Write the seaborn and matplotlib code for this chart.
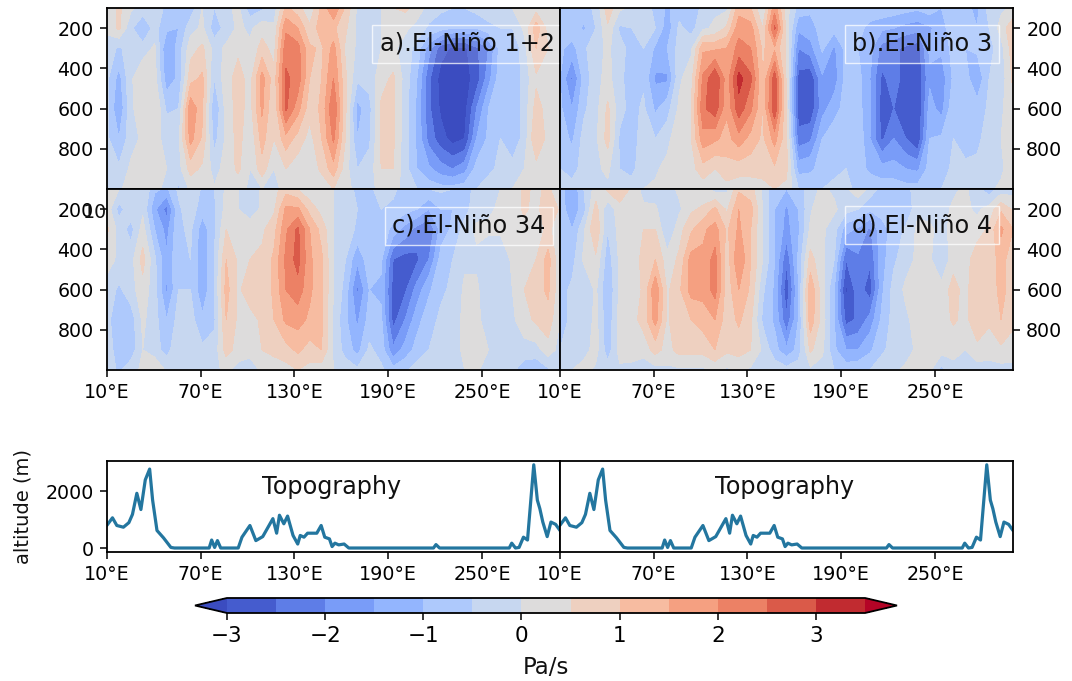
import numpy as np
import pandas as pd
import matplotlib
matplotlib.use("Agg")
import matplotlib.pyplot as plt
import seaborn as sns

lons = np.linspace(10, 300, 39)
plevs = [100, 200, 300, 450, 600, 750, 900, 1000]
levels = np.arange(-3, 3.51, 0.5)
lon_ticks = [10, 70, 130, 190, 250]
lon_labels = ["10°E", "70°E", "130°E", "190°E", "250°E"]
p_ticks = [200, 400, 600, 800]

nino12 = [
 [0.1,0.1,-0.2,-0.4,-0.4,-0.4,-0.3,0],[0.6,0.6,-0.6,-1.2,-1.5,-1.0,-0.4,-0.2],[0.1,-0.4,-0.2,-0.1,-0.1,-0.2,0.1,0.5],
 [-0.2,-1.0,-0.3,0.5,0.3,0.1,0.1,0.2],[0,-0.3,0.1,0.2,0.5,0.1,0.2,0.1],[-0.7,-0.9,-1.5,-1.3,-0.6,-0.1,0,-0.1],
 [-1,-1,-0.8,-0.9,-0.5,-0.1,-0.2,-0.6],[-0.8,-0.2,0.3,0.8,1.9,1.7,0.7,0.1],[0,0.1,0.6,1.1,1.1,0.9,0.4,0.1],
 [-0.5,-0.8,-0.2,-0.5,-1.0,-0.7,-0.2,0.05],[-0.1,-0.3,0.1,0.3,0.2,0.1,0.2,0.1],[0.1,0.1,0.4,0.7,0.7,0.7,0.6,0.2],
 [-0.8,-0.1,0.1,0.3,0.3,0.1,0,-0.1],[-0.6,0.3,0.7,1.7,1.6,1.2,0.8,0],[-0.3,0.1,0.3,0.7,0.5,0.5,0,-0.1],
 [1.1,1.9,2.3,2.6,2.6,1.3,0.5,0.1],[0.7,1.5,2.2,2.3,1.7,0.8,0.2,0.1],[0.1,0.6,1.1,1.0,0.7,0.3,0.2,0.1],
 [1.1,1.3,0.9,1.0,1.1,1.0,0.6,0.2],[2.0,1.1,1.7,2.0,2.5,2.1,1.3,0.5],[0.9,0.6,0.4,0.6,0.6,0.5,0.2,0.1],
 [-0.1,-0.1,-0.1,-0.4,-1.2,-1,-0.5,-0.1],[-0.1,-0.2,-0.2,-0.3,-0.7,-0.6,-0.3,-0.1],[0,0,0,0.3,0.6,0.6,0.5,0.1],
 [0.5,0.2,0.1,0.6,0.6,0.6,0.5,0.1],[0.6,0.1,-0.2,-0.2,-0.3,-0.3,-0.3,-0.1],[0.3,-0.2,-0.7,-1,-1.1,-1.1,-1,-0.5],
 [-0.2,-0.6,-1.8,-2.4,-2.4,-2.2,-1.4,-0.7],[-0.4,-0.8,-2.8,-3.2,-3.1,-2.8,-1.8,-0.8],[-0.5,-1,-3.1,-3.3,-3.3,-3.2,-2.0,-0.8],
 [-0.5,-1,-3.1,-3.2,-3.2,-3,-1.7,-0.7],[-0.3,-1,-2.6,-2.8,-2,-1.5,-0.8,-0.5],[-0.1,-0.7,-2,-1.7,-1,-0.9,-0.6,-0.3],
 [-0.1,-0.5,-0.8,-0.7,-0.6,-0.5,-0.4,-0.1],[0,-0.5,-1.0,-0.9,-1,-0.9,-0.3,0],[0.5,0.1,-0.2,-0.3,-0.3,-0.3,0,0.1],
 [0.3,1.3,1.0,0.4,0.7,1.0,0.3,0.1],[0.1,0.3,0.5,0.4,0.3,0.3,0.1,0.1],[0.1,0.1,0.2,0.2,0.1,0.1,0.1,0.1],
]
nino3 = [
 [-0.8,-0.8,-0.9,-1,-0.9,-0.7,-0.5,-0.3],[-0.5,-0.7,-1.2,-2.1,-1.5,-1.1,-0.7,-0.3],[-0.7,-1.1,-0.6,-0.8,-0.6,-0.3,-0.3,-0.1],
 [-0.4,-0.5,-0.2,-0.2,-0.2,-0.1,-0.1,0],[0.8,0.4,0.1,0.2,0.6,0.7,0.1,-0.1],[0.1,-0.6,-0.3,-0.4,-0.3,-0.6,-0.5,-0.3],
 [-0.1,-0.5,-0.7,-0.7,-0.7,-0.7,-0.7,-0.2],[-0.3,-0.4,-0.5,-0.6,-0.4,-0.3,-0.1,0],[-0.6,-0.5,-1.1,-1.6,-1.1,-0.5,-0.1,0.1],
 [-1.1,-1.3,-1,-1.6,-0.7,-0.2,0.2,0.1],[-0.7,-0.4,-0.3,-0.1,0.1,0.5,0.5,0.1],[-1,-0.7,-0.1,0.3,0.5,0.5,0.3,0.1],
 [-0.3,-0.1,1.4,2.1,2.4,1.8,0.8,0.2],[-0.1,0.1,1.4,3.0,2.8,1.6,0.5,0.2],[-0.1,0.6,1.5,1.7,1.6,1.3,0.8,0.3],
 [1.3,1.8,2.2,3.2,2.8,1.8,0.7,0.2],[1.0,1.7,2,2.6,2.1,1.3,0.7,0.2],[0,0.5,0.9,1,1,0.9,0.7,0.3],
 [1.8,2.6,1.4,2.8,2.9,1.7,0.9,0.5],[0.2,0.3,0.4,0.4,0.4,0.6,0.6,0.4],[-0.7,-1.4,-2,-2.7,-2.8,-2.3,-1.2,-0.5],
 [-0.9,-1.2,-1.7,-2.9,-2.9,-2.1,-1.1,-0.6],[-0.7,-0.8,-0.9,-1.6,-1.7,-1,-0.8,-0.5],[-0.8,-0.8,-1.6,-1.8,-1.2,-0.7,-0.6,-0.4],
 [-0.5,-0.6,-0.8,-0.8,-0.8,-0.5,-0.5,-0.4],[-0.8,-0.9,-1,-0.8,-0.8,-0.6,-0.8,-0.6],[-0.8,-1.1,-1.3,-1.5,-1.4,-1.5,-1.1,-0.7],
 [-0.6,-1.4,-2.2,-2.6,-2.8,-2.6,-1.3,-0.7],[-0.7,-1.5,-2.4,-2.3,-2.5,-2,-1.3,-0.7],[-0.8,-1.7,-2.6,-2.7,-2.7,-2.5,-1.5,-0.8],
 [-0.9,-1.8,-2.8,-3,-3,-3,-1.6,-0.8],[-0.7,-1.6,-1.4,-1.6,-1.3,-1,-0.8,-0.6],[-1,-1.2,-1.4,-1.8,-1.7,-0.9,-0.7,-0.5],
 [-0.9,-0.7,-0.8,-0.9,-0.6,-0.5,-0.4,-0.2],[-0.9,-0.9,-1,-0.8,-0.8,-0.7,-0.4,-0.3],[-1.1,-1,-0.9,-1.4,-0.8,-0.6,-0.4,-0.2],
 [-0.3,-0.5,-0.7,-0.5,-0.4,-0.3,-0.3,-0.1],[-0.1,0.2,-0.2,-0.3,-0.1,0,-0.1,0.1],[0.1,0.9,0.8,0.6,0.4,0.3,0.3,0.3],
]
nino34 = [
 [0.1,0.3,0.6,0.2,-0.2,-0.3,-0.3,-0.2],[0,-0.7,-0.2,-0.1,-0.6,-1,-0.7,-0.6],[0,-0.2,-0.7,-0.2,-0.2,-0.8,-0.8,-0.2],
 [0,-0.1,0.2,0.7,0.3,0.1,0,0.1],[-0.9,-1.4,-1,-0.4,-0.3,-0.3,-0.3,0.5],[-1.1,-2.2,-1.7,-1.4,-1.6,-1,-0.7,-0.1],
 [-0.4,-0.6,-0.6,-0.6,-0.5,-0.3,-0.1,0],[0,-0.2,-0.4,-0.5,-0.5,-0.3,-0.1,0],[-0.6,-0.8,-1.3,-1.4,-1.4,-0.9,-0.4,-0.2],
 [-0.5,-0.6,-0.6,-0.5,-0.5,-0.6,-0.3,-0.1],[0.1,0.2,0.5,1,1.2,1,0.7,0.1],[0,0,0.4,0.4,0.4,0.4,0.3,-0.2],
 [-0.5,-0.3,0.3,0.5,0.8,0.3,0.2,-0.3],[0.1,0.1,0.4,0.6,0.6,0.6,0.5,0.1],[0.3,0.4,0.8,1.1,1.1,1,0.7,0.1],
 [0.8,1.6,1.9,2.1,2,1.6,0.8,0.3],[0.5,1.6,2.6,2.7,2.3,1.7,1.1,0.5],[0.1,0.8,1.5,1.6,1.6,1.4,0.8,0.3],
 [0.3,0.3,0.8,1.1,1.1,1.1,1,0.2],[0,0,0,0,0,-0.1,-0.1,0],[-0.1,-0.1,-0.2,-0.5,-0.7,-0.9,-0.7,-0.2],
 [-0.7,-0.5,-0.6,-1.4,-2.1,-1.6,-1.2,-0.4],[-0.7,-0.6,-0.5,-0.7,-1,-0.8,-0.4,-0.2],[-0.1,-0.5,-0.6,-0.9,-1.1,-0.9,-0.7,-0.4],
 [-0.4,-0.6,-1.2,-2.5,-2.7,-2.7,-1.9,-0.8],[-0.7,-0.8,-1.7,-2.7,-2.6,-2,-1.3,-0.6],[-0.6,-1,-2.2,-2.6,-1.8,-1.2,-0.8,-0.3],
 [-0.5,-1.5,-2.5,-2,-1.1,-0.7,-0.5,-0.3],[-0.4,-1.0,-1.3,-0.8,-0.6,-0.4,-0.3,-0.2],[-0.5,-1,-0.9,-0.5,-0.4,-0.2,-0.2,-0.1],
 [-0.9,-0.7,-0.3,-0.1,0.1,0.1,0.1,0],[-0.2,-0.2,0.1,-0.1,0.1,0.1,0.1,0.1],[-0.2,-0.1,0.1,-0.4,-0.4,-0.2,0,-0.3],
 [0,0.1,0.1,-0.4,-0.3,-0.2,-0.3,-0.4],[0.2,0.2,0.1,0.1,0,-0.1,-0.3,-0.4],[0.6,0.6,0.3,0.1,0.5,0.3,-0.2,-0.8],
 [0.4,0.3,0.3,0.5,0.8,0.6,-0.2,-0.9],[0.6,1.0,0.6,1.2,1.1,0.8,0.3,-0.6],[0.1,0.4,0.2,0.1,0.1,0,-0.2,-0.3],
]
nino4 = [
 [-0.7,-0.7,-0.6,-0.7,-0.7,-0.7,-0.5,-0.3],[-1.5,-1.4,-1,-0.7,-0.4,-0.4,-0.2,0],[-0.5,-0.7,-0.1,0.1,-0.5,-0.5,-0.2,0.2],
 [0.2,0.7,1,0.4,0.1,0.2,0.2,-0.1],[0.6,-0.4,-0.5,-0.8,-1,-0.9,-0.8,-0.2],[0.9,0.3,0.2,0.1,0.1,0.2,0.2,-0.1],
 [0.4,0.5,0.4,0.3,0.1,0.3,0.3,-0.2],[-0.2,0.1,0.5,0.6,0.6,0.7,0.2,-0.3],[-0.3,0.1,0.5,1,1.9,1.7,0.7,-0.2],
 [-0.2,-0.5,-0.5,0.2,0.4,0.4,0.3,-0.1],[0.1,-0.1,0.3,0.6,0.9,1,0.7,-0.1],[0.2,0.4,0.9,1.7,1.7,1.0,0.7,-0.1],
 [0.1,0.6,1.4,1.6,1.7,1.2,0.7,-0.1],[-0.2,1.1,1.7,2.2,2.2,1.5,1,0.1],[-0.1,0.4,0.9,0.7,0.7,0.7,0.6,-0.1],
 [0.9,1.5,1.6,2,1.5,1.1,0.7,0.1],[0.7,1.2,1,1,0.9,0.6,0.5,-0.1],[-0.1,0,0,0,-0.4,-0.6,-0.1,-0.1],
 [-0.9,-1,-1,-1,-1.1,-1.1,-0.8,-0.2],[-1,-1.6,-1.7,-2.4,-2.9,-2.4,-1.4,-0.3],[-0.8,-1,-1.1,-0.9,-1,-1,-0.8,-0.2],
 [-0.2,-0.1,0.1,0.7,1.4,1.3,0.6,-0.1],[0.1,0.5,0.1,0.1,0.2,0.3,0.1,-0.2],[-0.1,0.1,-0.3,-0.5,-1,-1,-0.9,-0.5],
 [-0.1,-0.3,-1.3,-2.5,-3.1,-2.7,-1.5,-0.7],[0.4,-0.5,-1.6,-2.1,-2.2,-2.4,-1.5,-0.6],[-0.2,-0.9,-2.1,-2.4,-2.8,-1.8,-1.1,-0.5],
 [-0.7,-0.9,-1.1,-1.2,-1.1,-0.9,-0.6,-0.2],[-0.7,-0.7,-0.9,-0.6,-0.3,-0.3,-0.3,-0.1],[-0.8,-1,-0.4,-0.2,0.1,-0.1,-0.2,0.1],
 [-0.1,-0.1,0.1,0.1,0.2,0.2,0.1,0.1],[-0.5,-0.2,0.1,0.1,0.1,0.1,0.1,0.1],[-0.4,-0.2,-0.2,-0.5,0.2,0.2,0.2,-0.7],
 [-0.1,0.1,0.2,0.3,0.7,0.6,0.1,-0.1],[0.1,0.1,0.2,0.2,0.3,0.3,0,-0.2],[-0.4,-0.1,0.2,0.9,1,1,0.3,-0.2],
 [-0.8,0.2,0.6,0.7,0.6,0.6,0.2,-0.2],[-0.3,0.9,1.6,1.2,1.2,1,0.4,-0.2],[-0.2,0.4,1,0.7,0.7,0.6,0.3,-0.2],
]
panel_labels = ["a).El-Niño 1+2", "b).El-Niño 3", "c).El-Niño 34", "d).El-Niño 4"]

topo_lon = [10,13.5,16.3,20.5,24,26.3,29.1,31.7,34.5,37.3,39.2,42,46.2,50.9,53.2,75.4,77,78.9,80.7,82.8,94,96.4,101.5,
            105.3,109.7,116.2,118.6,120.4,123.2,125.6,129.1,132.1,133.7,136.1,138.4,144.3,147.1,149.4,152.4,154.1,
            155.9,158.3,161.8,164.8,219,220.6,222.9,267.5,269.1,271.5,273.8,276.6,279.2,283.2,285.5,287.1,289,
            291.8,294.2,297.2,300]
topo_alt = [800,1060,790,730,890,1180,1920,1350,2390,2770,1680,615,355,20,0,0,280,20,260,0,0,380,790,
            260,400,1030,520,1150,850,1120,440,140,440,380,520,520,790,380,320,50,
            170,110,140,0,0,120,0,0,170,0,20,380,280,2920,1680,1380,910,
            400,910,830,615]

W, H = 1072, 681
sns.set_style("ticks")
plt.rcParams["font.family"] = ["DejaVu Sans"]
plt.rcParams["axes.edgecolor"] = "black"
plt.rcParams["axes.linewidth"] = 1.3
plt.rcParams["xtick.color"] = "black"
plt.rcParams["ytick.color"] = "black"
plt.rcParams["text.color"] = "#111111"
cmap = sns.color_palette("coolwarm", as_cmap=True)
fig = plt.figure(figsize=(W / 100, H / 100), dpi=100)
TICK_FS = 13.7

def px_axes(l, t, r, b):
    return fig.add_axes([l / W, 1 - b / H, (r - l) / W, (b - t) / H])

boxes = [(107, 8, 560, 189), (560, 8, 1013, 189), (107, 189, 560, 370), (560, 189, 1013, 370)]
label_xy = [(467, 44), (922, 44), (469, 226), (922, 225)]
cf = None
for i, (data, box, lab, xy) in enumerate(zip([nino12, nino3, nino34, nino4], boxes, panel_labels, label_xy)):
    ax = px_axes(*box)
    z = np.array(data).T
    cf = ax.contourf(lons, plevs, z, levels=levels, cmap=cmap, extend="both")
    ax.set_xlim(10, 300)
    ax.set_ylim(1000, 100)
    ax.set_yticks(p_ticks)
    ax.tick_params(labelsize=TICK_FS, length=5, width=1.1, pad=4.5)
    if i % 2:
        ax.yaxis.tick_right()
    if i < 2:
        ax.set_xticks([])
    else:
        ax.set_xticks(lon_ticks)
        ax.set_xticklabels(lon_labels)
    ax.text(xy[0], H - xy[1], lab, transform=None, fontsize=17.3, ha="center", va="center", zorder=5,
            bbox=dict(boxstyle="square,pad=0.3", facecolor=(1, 1, 1, 0.12), edgecolor=(1, 1, 1, 0.75), linewidth=1))
    if i == 2:
        ax.text(107, H - 212, "10", transform=None, fontsize=TICK_FS, ha="right", va="center")

for j, (l, r) in enumerate([(107, 560), (560, 1013)]):
    ax = px_axes(l, 461, r, 552)
    topo = pd.DataFrame({"lon": topo_lon, "alt": topo_alt})
    sns.lineplot(data=topo, x="lon", y="alt", ax=ax, color="#23769f", linewidth=2.3, estimator=None, sort=False)
    ax.set_xlim(10, 300)
    ax.set_ylim(-140, 3053)
    ax.set_xlabel("")
    ax.set_ylabel("")
    ax.set_xticks(lon_ticks)
    ax.set_xticklabels(lon_labels)
    ax.tick_params(labelsize=TICK_FS, length=5, width=1.1, pad=4.5)
    if j == 0:
        ax.set_yticks([0, 2000])
    else:
        ax.set_yticks([])
    ax.text((l + r) / 2 - 2, H - 487, "Topography", transform=None, fontsize=17.2, ha="center", va="center")
fig.text(23 / W, 1 - 507 / H, "altitude (m)", rotation=90, fontsize=14, ha="center", va="center")

cax = px_axes(195, 598, 897, 613)
cb = fig.colorbar(cf, cax=cax, orientation="horizontal", ticks=[-3, -2, -1, 0, 1, 2, 3])
cb.ax.tick_params(labelsize=15.5, length=5, width=1.1, pad=4.5)
cb.outline.set_linewidth(1.3)
fig.text(546 / W, 1 - 668 / H, "Pa/s", fontsize=16.5, ha="center", va="center")

fig.savefig("out.png", dpi=100)
